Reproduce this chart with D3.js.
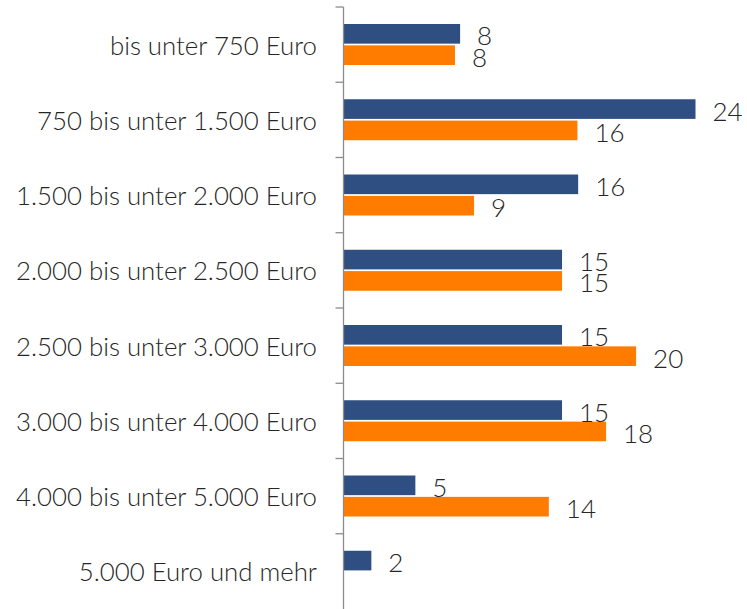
<!DOCTYPE html>
<html><head><meta charset="utf-8">
<script src="https://cdn.jsdelivr.net/npm/d3@7"></script>
<style>
body{margin:0;background:#fff;}
svg{display:block;font-family:Lato, "Open Sans", sans-serif;font-weight:300;}
</style></head>
<body><svg id="c" width="747" height="609"></svg>
<script>
const categories = ["bis unter 750 Euro","750 bis unter 1.500 Euro","1.500 bis unter 2.000 Euro","2.000 bis unter 2.500 Euro","2.500 bis unter 3.000 Euro","3.000 bis unter 4.000 Euro","4.000 bis unter 5.000 Euro","5.000 Euro und mehr"];
const seriesA = [7.95, 24, 16, 14.9, 14.9, 14.9, 4.9, 1.9];
const seriesB = [7.6, 15.95, 8.9, 14.9, 19.95, 17.9, 14, null];
const labelsA = ["8","24","16","15","15","15","5","2"];
const labelsB = ["8","16","9","15","20","18","14",null];
const seriesKeys = ["A","B"];
const colors = {A:"#2F4F82", B:"#FF7C00"};

const svg = d3.select("#c");
const x = d3.scaleLinear().domain([0,24]).range([343.5,695.5]);
const y = d3.scaleBand().domain(categories).range([7,609]);
const yi = d3.scaleBand().domain(seriesKeys).range([17,58]).paddingInner(0.08);

const rows = [];
categories.forEach((c,i)=>{
  rows.push({c, k:"A", v:seriesA[i], l:labelsA[i]});
  if(seriesB[i]!=null) rows.push({c, k:"B", v:seriesB[i], l:labelsB[i]});
});

svg.selectAll("rect.bar").data(rows).join("rect")
  .attr("class","bar")
  .attr("x", x(0))
  .attr("y", d=>y(d.c)+yi(d.k))
  .attr("width", d=>x(d.v)-x(0))
  .attr("height", yi.bandwidth())
  .attr("fill", d=>colors[d.k]);

svg.selectAll("text.val").data(rows).join("text")
  .attr("class","val")
  .attr("x", d=>x(d.v)+17)
  .attr("y", d=>y(d.c)+yi(d.k)+yi.bandwidth()/2+1.5)
  .attr("dominant-baseline","central")
  .attr("font-size",26)
  .attr("fill","#262626")
  .text(d=>d.l);

// axis with ticks at band boundaries
const axisG = svg.append("g");
axisG.append("line").attr("x1",x(0)).attr("x2",x(0)).attr("y1",y.range()[0]).attr("y2",609)
  .attr("stroke","#8c8c8c").attr("stroke-width",1.3);
const bounds = categories.map(c=>y(c));
axisG.selectAll("line.tick").data(bounds).join("line").attr("class","tick")
  .attr("x1",x(0)-8).attr("x2",x(0)).attr("y1",d=>d).attr("y2",d=>d)
  .attr("stroke","#8c8c8c").attr("stroke-width",1.3);

svg.selectAll("text.cat").data(categories).join("text")
  .attr("class","cat")
  .attr("x",317)
  .attr("y",d=>y(d)+y.bandwidth()/2)
  .attr("text-anchor","end")
  .attr("dominant-baseline","central")
  .attr("font-size",25.8)
  .attr("fill","#262626")
  .text(d=>d);
</script></body></html>
